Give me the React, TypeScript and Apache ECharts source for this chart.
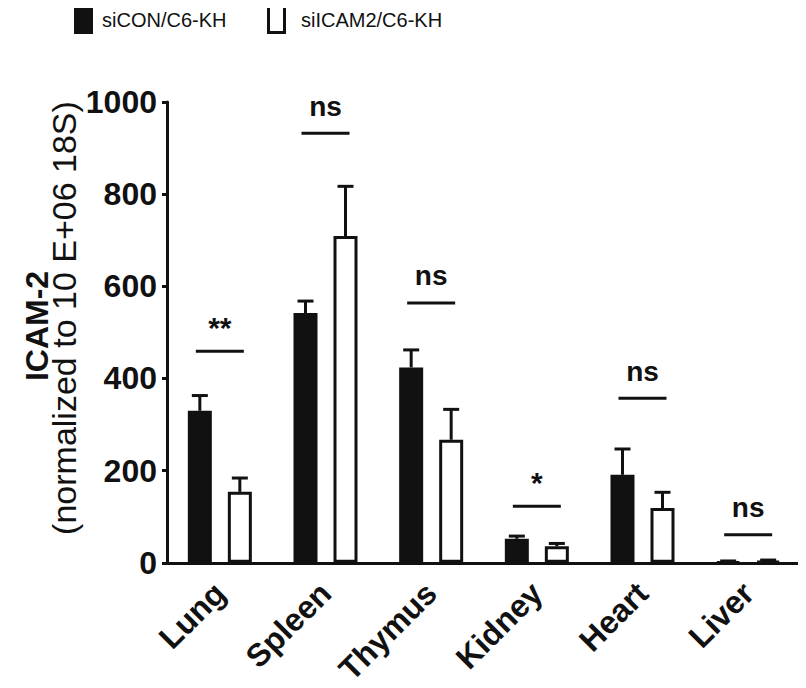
import React, { useEffect, useRef } from "react";
import * as echarts from "echarts";

const categories = ["Lung", "Spleen", "Thymus", "Kidney", "Heart", "Liver"];
const conMean = [330, 542, 424, 52, 191, 3];
const conSD = [33, 26, 38, 6, 56, 1];
const icamMean = [154, 709, 267, 36, 119, 4];
const icamSD = [30, 108, 66, 6, 34, 2];
const sigLabels = ["**", "ns", "ns", "*", "ns", "ns"];
const sigLevel = [459, 932, 564, 123, 357, 61];
const seriesNames = ["siCON/C6-KH", "siICAM2/C6-KH"];

const FONT = "'Liberation Sans', Arial, Helvetica, sans-serif";
const INK = "#111111";

function errorRender(offset: number) {
  return (params: any, api: any) => {
    const cat = api.value(0);
    const m = api.value(1);
    const sd = api.value(2);
    const base = api.coord([cat, m]);
    const top = api.coord([cat, m + sd]);
    const x = base[0] + offset;
    return {
      type: "group",
      children: [
        { type: "line", shape: { x1: x, y1: base[1], x2: x, y2: top[1] }, style: { stroke: INK, lineWidth: 3 } },
        { type: "line", shape: { x1: x - 8, y1: top[1], x2: x + 8, y2: top[1] }, style: { stroke: INK, lineWidth: 3 } },
      ],
    };
  };
}

export default function App() {
  const ref = useRef<HTMLDivElement>(null);
  useEffect(() => {
    if (!ref.current) return;
    const chart = echarts.init(ref.current, null, { renderer: "svg" });
    const option: any = {
      animation: false,
      backgroundColor: "#ffffff",
      textStyle: { fontFamily: FONT },
      legend: { show: false },
      grid: { left: 167, right: 5, top: 102, bottom: 122, containLabel: false },
      xAxis: {
        type: "category",
        data: categories,
        axisLine: { lineStyle: { color: INK, width: 3 } },
        axisTick: { alignWithLabel: true, length: 6, lineStyle: { color: INK, width: 3 } },
        axisLabel: {
          rotate: 45,
          fontSize: 32,
          fontWeight: "bold",
          color: INK,
          fontFamily: FONT,
          margin: 25,
          interval: 0,
        },
      },
      yAxis: {
        type: "value",
        min: 0,
        max: 1000,
        interval: 200,
        splitLine: { show: false },
        axisLine: { show: true, lineStyle: { color: INK, width: 3 } },
        axisTick: { show: true, length: 5, lineStyle: { color: INK, width: 3 } },
        axisLabel: {
          fontSize: 32,
          fontWeight: "bold",
          color: INK,
          fontFamily: FONT,
          margin: 10,
          formatter: (v: number) => String(v),
        },
      },
      graphic: [
        // legend
        { type: "rect", shape: { x: 74, y: 5, width: 19, height: 29 }, style: { fill: INK } },
        {
          type: "text",
          x: 102,
          y: 20,
          style: { text: seriesNames[0], fontSize: 20, fontFamily: FONT, fill: INK, align: "left", verticalAlign: "middle" },
        },
        {
          type: "rect",
          shape: { x: 268.5, y: 6.5, width: 16, height: 26 },
          style: { fill: "#ffffff", stroke: INK, lineWidth: 3 },
        },
        {
          type: "text",
          x: 301,
          y: 20,
          style: { text: seriesNames[1], fontSize: 20, fontFamily: FONT, fill: INK, align: "left", verticalAlign: "middle" },
        },
        // y-axis title
        {
          type: "text",
          x: 37,
          y: 326,
          rotation: Math.PI / 2,
          style: {
            text: "ICAM-2",
            fontSize: 32,
            fontWeight: "bold",
            fontFamily: FONT,
            fill: INK,
            align: "center",
            verticalAlign: "middle",
          },
        },
        {
          type: "text",
          x: 64,
          y: 318,
          rotation: Math.PI / 2,
          style: {
            text: "(normalized to 10 E+06 18S)",
            fontSize: 34,
            fontFamily: FONT,
            fill: INK,
            align: "center",
            verticalAlign: "middle",
          },
        },
      ],
      series: [
        {
          name: seriesNames[0],
          type: "bar",
          data: conMean,
          barWidth: 24,
          barGap: "66.7%",
          itemStyle: { color: INK, borderColor: INK, borderWidth: 2 },
          z: 2,
        },
        {
          name: seriesNames[1],
          type: "bar",
          data: icamMean,
          barWidth: 24,
          itemStyle: { color: "#ffffff", borderColor: INK, borderWidth: 3 },
          z: 2,
        },
        {
          type: "custom",
          data: conMean.map((m, i) => [i, m, conSD[i]]),
          encode: { x: 0, y: 1 },
          renderItem: errorRender(-20),
          z: 1,
          silent: true,
        },
        {
          type: "custom",
          data: icamMean.map((m, i) => [i, m, icamSD[i]]),
          encode: { x: 0, y: 1 },
          renderItem: errorRender(20),
          z: 1,
          silent: true,
        },
        {
          type: "custom",
          data: sigLevel.map((v, i) => [i, v]),
          encode: { x: 0, y: 1 },
          silent: true,
          z: 3,
          renderItem: (params: any, api: any) => {
            const p = api.coord([api.value(0), api.value(1)]);
            const label = sigLabels[params.dataIndex];
            const isStar = label.indexOf("*") >= 0;
            return {
              type: "group",
              children: [
                {
                  type: "line",
                  shape: { x1: p[0] - 24, y1: p[1], x2: p[0] + 24, y2: p[1] },
                  style: { stroke: INK, lineWidth: 3 },
                },
                {
                  type: "text",
                  x: p[0],
                  y: p[1] - (isStar ? 24 : 27),
                  style: {
                    text: label,
                    fontSize: isStar ? 30 : 28,
                    fontWeight: "bold",
                    fontFamily: FONT,
                    fill: INK,
                    align: "center",
                    verticalAlign: "middle",
                  },
                },
              ],
            };
          },
        },
      ],
    };
    chart.setOption(option);
    return () => chart.dispose();
  }, []);
  return <div ref={ref} style={{ width: 806, height: 688, margin: -8 }} />;
}
